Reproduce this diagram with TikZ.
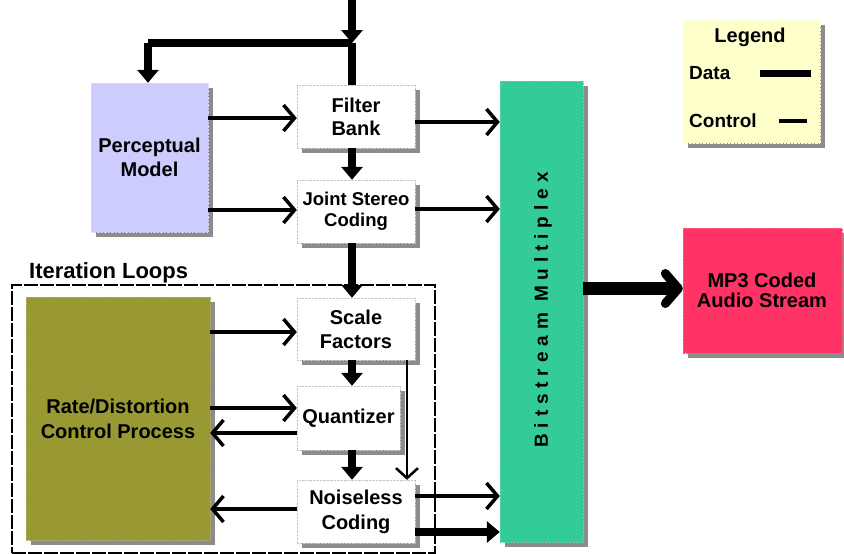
\documentclass[tikz,border=0pt]{standalone}
\usepackage{fontspec}
\setmainfont{Liberation Sans}
\usetikzlibrary{arrows.meta,shadows}
\definecolor{lav}{HTML}{CCCCFF}
\definecolor{olive}{HTML}{999933}
\definecolor{teal}{HTML}{33CC99}
\definecolor{pinkish}{HTML}{FF3366}
\definecolor{legy}{HTML}{FFFFCC}
\definecolor{shad}{HTML}{8C8C8C}
\begin{document}
\begin{tikzpicture}[x=1pt,y=-1pt,
  box/.style={inner sep=0pt, align=center,
    font=\bfseries\fontsize{20}{23}\selectfont,
    drop shadow={shadow xshift=5pt, shadow yshift=-5pt, fill=shad, opacity=1}},
  wbox/.style={box, draw=gray!45, densely dotted, fill=white, minimum width=118pt, minimum height=63pt},
  cbox/.style={box, draw=#1!80!white, densely dotted, fill=#1},
  lbl/.style={inner sep=0pt, align=center, font=\bfseries\fontsize{20}{20}\selectfont},
  ctrl/.style={line width=3.5pt, -{Straight Barb[length=11pt,width=26pt,line width=3.5pt]}},
  data/.style={line width=8pt, -{Triangle[length=13pt,width=21pt]}},
  dline/.style={line width=8pt},
  bigdata/.style={line width=13pt, -{Straight Barb[length=13pt,width=30pt,line width=9pt,round]}},
]
\useasboundingbox (0,0) rectangle (844,554);

% iteration loops frame
\node[draw, line width=2.5pt, dash pattern=on 14pt off 2pt, minimum width=423pt, minimum height=268pt, inner sep=0pt] (loops) at (223.5,419) {};
\node[anchor=west, inner sep=0pt, font=\bfseries\fontsize{22}{24}\selectfont] (looplbl) at (29,273) {Iteration Loops};

% boxes
\node[cbox=lav, minimum width=117pt, minimum height=149pt, font=\bfseries\fontsize{20}{24}\selectfont] (pm) at (149.5,157.5) {Perceptual\\Model};
\node[wbox] (fb) at (356,116.5) {Filter\\Bank};
\node[wbox, font=\bfseries\fontsize{18.5}{21}\selectfont] (js) at (356,211.5) {Joint Stereo\\Coding};
\node[wbox, minimum height=62pt, font=\bfseries\fontsize{20}{24}\selectfont] (sf) at (356,329) {Scale\\Factors};
\node[wbox, minimum width=103pt, minimum height=64pt] (qz) at (348.5,418) {Quantizer};
\node[wbox, font=\bfseries\fontsize{20}{25}\selectfont] (nc) at (356,511.5) {Noiseless\\Coding};
\node[cbox=olive, minimum width=184pt, minimum height=243pt, font=\bfseries\fontsize{20}{25}\selectfont] (rd) at (118,418.5) {Rate/Distortion\\Control Process};
\node[cbox=teal, minimum width=83pt, minimum height=461pt] (mux) at (541.5,311.5) {};
\node[rotate=90, inner sep=0pt, font=\bfseries\fontsize{19}{20}\selectfont\addfontfeature{LetterSpace=31}] (muxlbl) at (543,310) {Bitstream Multiplex};
\node[cbox=pinkish, minimum width=159pt, minimum height=125pt] (mp3) at (762.5,290.5) {};
\node[lbl] (mp3lbl) at (762,290) {MP3 Coded\\Audio Stream};
\node[cbox=legy, minimum width=137pt, minimum height=123pt] (leg) at (751.5,81.5) {};
\node[lbl] (legt) at (750,37) {Legend};
\node[lbl, anchor=west, font=\bfseries\fontsize{19}{20}\selectfont] (legd) at (689,73) {Data};
\node[lbl, anchor=west, font=\bfseries\fontsize{19}{20}\selectfont] (legc) at (689,121) {Control};
\coordinate (ld1) at (760,73); \coordinate (ld2) at (811,73);
\coordinate (lc1) at (779,121); \coordinate (lc2) at (807,121);
\draw[line width=7pt] (ld1) -- (ld2);
\draw[line width=4pt] (lc1) -- (lc2);

% row coordinates
\coordinate (top) at (352,0);
\coordinate (jn) at (352,43);
\coordinate (yA) at (0,118);
\coordinate (yB) at (0,122);
\coordinate (yC) at (0,210);
\coordinate (yD) at (0,209);
\coordinate (yE) at (0,332);
\coordinate (yF) at (0,408);
\coordinate (yG) at (0,433);
\coordinate (yH) at (0,509);
\coordinate (yI) at (0,496);
\coordinate (yJ) at (0,532);
\coordinate (yK) at (0,288.5);
\coordinate (xS) at (407,0);
\coordinate (xM) at (148,0);

% data flow
\draw[data] (top) -- (jn);
\draw[dline] (jn) -- (fb.north -| jn);
\draw[line width=8pt] (jn) -- (jn -| xM);
\draw[data] (jn -| xM) -- (pm.north -| xM);
\draw[data] (fb.south -| jn) -- (js.north -| jn);
\draw[data] (js.south -| jn) -- (sf.north -| jn);
\draw[data] (sf.south -| jn) -- (qz.north -| jn);
\draw[data] (qz.south -| jn) -- (nc.north -| jn);
\draw[data] (nc.east |- yJ) -- (mux.west |- yJ);
\draw[bigdata] (mux.east |- yK) -- (mp3.west |- yK);

% control flow
\draw[ctrl] (pm.east |- yA) -- (fb.west |- yA);
\draw[ctrl] (pm.east |- yC) -- (js.west |- yC);
\draw[ctrl] (fb.east |- yB) -- (mux.west |- yB);
\draw[ctrl] (js.east |- yD) -- (mux.west |- yD);
\draw[ctrl] (rd.east |- yE) -- (sf.west |- yE);
\draw[ctrl] (rd.east |- yF) -- (qz.west |- yF);
\draw[ctrl] (qz.west |- yG) -- (rd.east |- yG);
\draw[ctrl] (nc.west |- yH) -- (rd.east |- yH);
\draw[ctrl] (nc.east |- yI) -- (mux.west |- yI);
\draw[line width=2.5pt, -{Straight Barb[length=10pt,width=22pt,line width=2.5pt]}] (sf.south -| xS) -- (nc.north -| xS);
\end{tikzpicture}
\end{document}
